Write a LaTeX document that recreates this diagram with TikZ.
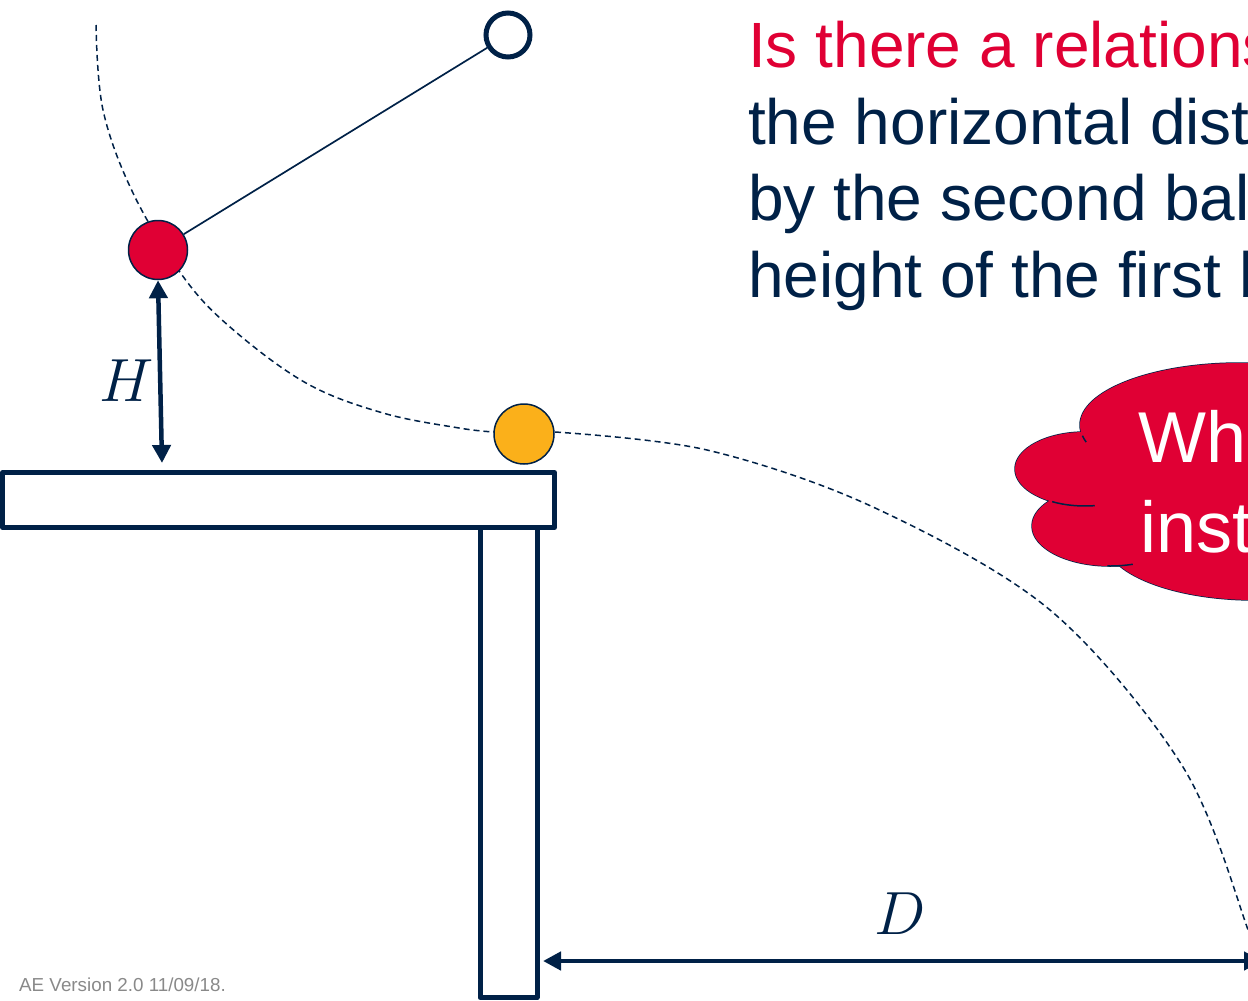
\RequirePackage{fix-cm}
\documentclass[tikz,border=0pt]{standalone}
\usepackage{fontspec}
\setmainfont{Liberation Sans}
\usetikzlibrary{arrows.meta}
\definecolor{navy}{RGB}{0,33,71}
\definecolor{qred}{RGB}{224,0,52}
\definecolor{ballorange}{RGB}{251,176,26}
\definecolor{footgray}{RGB}{137,137,137}
\begin{document}
\begin{tikzpicture}[x=1pt,y=-1pt,
  thickbox/.style={draw=navy, line width=5pt, line join=round, rectangle, inner sep=0pt, fill=white},
  traj/.style={draw=navy, line width=1.5pt, dash pattern=on 6pt off 4pt},
  dim/.style={draw=navy, line width=4.5pt, {Triangle[length=18pt,width=18pt]}-{Triangle[length=18pt,width=18pt]}},
  ball/.style={circle, draw=navy, line width=1.5pt, inner sep=0pt, minimum size=59pt},
  qtext/.style={anchor=base west, inner sep=0pt, font=\fontsize{64}{77}\selectfont},
  cloudtext/.style={anchor=base west, inner sep=0pt, text=white, font=\fontsize{72}{90}\selectfont},
  mathlbl/.style={text=navy, inner sep=0pt, font=\fontsize{61}{61}\selectfont},
  cloudline/.style={draw=navy, line width=1.5pt}
]
\useasboundingbox (0,0) rectangle (1248,1001);
\clip (0,0) rectangle (1248,1001);

% trajectories
\draw[traj] plot[smooth, tension=0.6] coordinates {(96,25) (103,110) (133,193) (182,275) (230,327) (306,383) (383,413) (459,428) (494,432)};
\draw[traj] plot[smooth, tension=0.55] coordinates {(555,432) (707,450) (873,507) (1050,610) (1183,767) (1247,927) (1252,960)};

% pendulum
\node[circle, draw=navy, line width=5pt, fill=white, inner sep=0pt, minimum size=44pt] (pv) at (508,35) {};
\node[ball, fill=qred] (rb) at (158,250) {};
\draw[navy, line width=1.7pt] (rb) -- (pv);

% second ball
\node[ball, fill=ballorange, minimum size=60pt] (ob) at (524,434) {};

% table and post
\node[thickbox, minimum width=57pt, minimum height=470pt] (post) at (508.5,762.5) {};
\node[thickbox, minimum width=552pt, minimum height=55pt] (table) at (278.5,500) {};

% H dimension
\coordinate (htip) at (162,463);
\draw[dim] (rb.south) -- (htip);
\node[mathlbl] (hlbl) at (127,381) {$H$};

% D dimension
\coordinate (dleft) at (543,961);
\coordinate (dright) at (1262,961);
\draw[dim] (dleft) -- (dright);
\node[mathlbl] (dlbl) at (900,914) {$D$};

% question
\node[qtext, text=qred] (q1) at (748,67) {Is there a relationship between};
\node[qtext, text=navy] (q2) at (748,144) {the horizontal distance travelled};
\node[qtext, text=navy] (q3) at (748,220) {by the second ball and the};
\node[qtext, text=navy] (q4) at (748,297) {height of the first ball?};

% cloud
\begin{scope}
  \draw[cloudline, fill=qred] (1240,425) ellipse [x radius=160, y radius=62];
  \draw[cloudline, fill=qred] (1085,469) ellipse [x radius=70, y radius=37];
  \draw[cloudline, fill=qred] (1110,526) ellipse [x radius=78, y radius=40];
  \draw[cloudline, fill=qred] (1255,540) ellipse [x radius=150, y radius=60];
  \fill[qred] (1240,425) ellipse [x radius=160, y radius=62];
  \fill[qred] (1085,469) ellipse [x radius=70, y radius=37];
  \fill[qred] (1110,526) ellipse [x radius=78, y radius=40];
  \fill[qred] (1255,540) ellipse [x radius=150, y radius=60];
  \fill[qred] (1250,480) ellipse [x radius=140, y radius=100];
  \draw[cloudline] (1085,469) ++(118:70 and 37) arc[start angle=118, end angle=82, x radius=70, y radius=37];
  \draw[cloudline] (1110,526) ++(92:78 and 40) arc[start angle=92, end angle=73, x radius=78, y radius=40];
  \draw[cloudline] (1240,425) ++(170:160 and 62) arc[start angle=170, end angle=164, x radius=160, y radius=62];
\end{scope}
\node[cloudtext] (c1) at (1138,462) {What if};
\node[cloudtext] (c2) at (1140,552) {instead?};

% footer
\node[anchor=base west, inner sep=0pt, text=footgray, font=\fontsize{18.8}{22}\selectfont] (foot) at (19,991) {AE Version 2.0 11/09/18.};
\end{tikzpicture}
\end{document}
